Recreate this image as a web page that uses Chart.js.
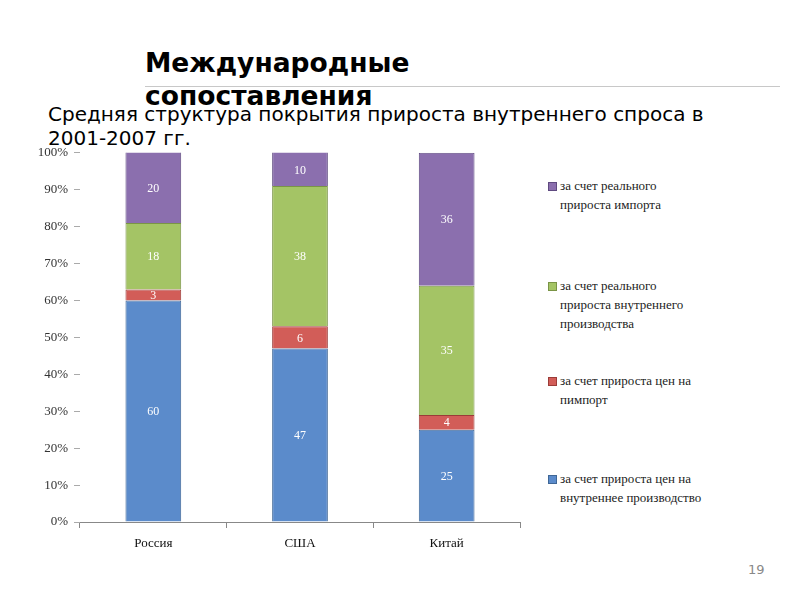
<!DOCTYPE html>
<html><head><meta charset="utf-8">
<script src="https://cdn.jsdelivr.net/npm/chart.js@4"></script>
<style>
html,body{margin:0;padding:0;background:#fff;width:800px;height:600px;overflow:hidden;position:relative;font-family:"DejaVu Sans",sans-serif;}
#t1{position:absolute;left:145px;top:46px;font:bold 26.5px "DejaVu Sans";color:#000;line-height:33px;}
#hr{position:absolute;left:145px;top:86px;width:635px;height:1px;background:#c8c8c8;}
#t2{position:absolute;left:48px;top:102px;width:670px;font:20px "DejaVu Sans";color:#000;line-height:24px;}
#wrap{position:absolute;left:0;top:139px;width:525px;height:416px;}
#legend{position:absolute;left:548px;top:0;font:13px "Liberation Serif",serif;color:#222;line-height:19px;}
.li{position:absolute;left:0;white-space:nowrap;}
.sw{position:absolute;left:0;top:6px;}
.tx{position:absolute;left:12px;top:0;}
#pg{position:absolute;left:748px;top:562px;font:13px "DejaVu Sans";color:#888;}
</style></head><body>
<div id="t1">Международные<br>сопоставления</div>
<div id="hr"></div>
<div id="t2">Средняя структура покрытия прироста внутреннего спроса в 2001-2007 гг.</div>
<div id="wrap"><canvas id="c"></canvas></div>
<div id="legend"></div>
<div id="pg">19</div>
<script>
const categories = ["Россия", "США", "Китай"];
const priceDomestic = [60, 47, 25];
const priceImport = [3, 6, 4];
const realDomestic = [18, 38, 35];
const realImport = [20, 10, 36];
const seriesNames = [
  "за счет прироста цен на внутреннее производство",
  "за счет прироста цен на пимпорт",
  "за счет реального прироста внутреннего производства",
  "за счет реального прироста импорта"
];
const legendLines = [
  ["за счет реального", "прироста импорта"],
  ["за счет реального", "прироста внутреннего", "производства"],
  ["за счет прироста цен на", "пимпорт"],
  ["за счет прироста цен на", "внутреннее производство"]
];
const legendTops = [176, 276, 371, 469];
const colors = ["#5b8bcb", "#d25d58", "#a4c465", "#8b6fae"];
const borders = ["#3f6796", "#9b3c38", "#7a9446", "#5f4a80"];

const legendOrder = [3, 2, 1, 0];
const lg = document.getElementById('legend');
legendOrder.forEach((si, i) => {
  const d = document.createElement('div');
  d.className = 'li';
  d.style.top = legendTops[i] + 'px';
  d.innerHTML = '<div class="sw" style="background:' + colors[si] + ';border:1px solid ' + borders[si] + ';width:7px;height:7px"></div><div class="tx">' + legendLines[i].join('<br>') + '</div>';
  lg.appendChild(d);
});

const dataArrays = [priceDomestic, priceImport, realDomestic, realImport];

const labelPlugin = {
  id: 'vals',
  afterDatasetsDraw(chart) {
    const ctx = chart.ctx;
    ctx.save();
    ctx.font = '12px "Liberation Serif", serif';
    ctx.fillStyle = '#ffffff';
    ctx.textAlign = 'center';
    ctx.textBaseline = 'middle';
    chart.data.datasets.forEach((ds, di) => {
      const meta = chart.getDatasetMeta(di);
      meta.data.forEach((bar, i) => {
        const top = Math.max(bar.y, chart.chartArea.top);
        const y = (top + bar.base) / 2;
        ctx.fillText(String(ds.data[i]), bar.x, y + 1);
      });
    });
    ctx.restore();
  }
};

new Chart(document.getElementById('c'), {
  type: 'bar',
  data: {
    labels: categories,
    datasets: dataArrays.map((arr, i) => ({
      label: seriesNames[i],
      data: arr,
      backgroundColor: colors[i],
      borderColor: borders[i],
      borderWidth: 1,
      barPercentage: 0.38,
      categoryPercentage: 1.0
    }))
  },
  options: {
    responsive: true,
    maintainAspectRatio: false,
    animation: false,
    layout: { padding: { top: 7, right: 5, left: 0, bottom: 0 } },
    plugins: { legend: { display: false }, tooltip: { enabled: false } },
    scales: {
      x: {
        stacked: true,
        grid: { offset: true, drawOnChartArea: false, tickLength: 6, color: '#888' },
        border: { display: true, color: '#888' },
        ticks: { font: { family: '"Liberation Serif", serif', size: 13 }, color: '#111', padding: 8 },
        afterFit(s) { s.height = 33; }
      },
      y: {
        stacked: true,
        min: 0, max: 100,
        grid: { drawOnChartArea: false, tickLength: 6, color: '#aaa' },
        border: { display: false },
        ticks: {
          stepSize: 10,
          font: { family: '"Liberation Serif", serif', size: 13 },
          color: '#333',
          padding: 6,
          callback: v => v + '%'
        },
        afterFit(s) { s.width = 80; }
      }
    }
  },
  plugins: [labelPlugin]
});
</script>
</body></html>
